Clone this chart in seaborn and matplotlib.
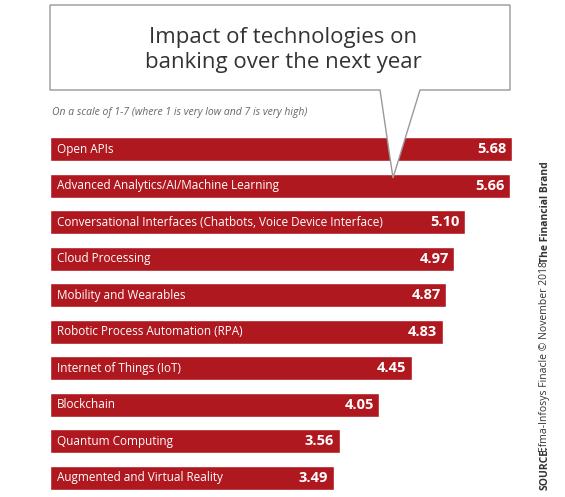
import matplotlib
matplotlib.use("Agg")
import matplotlib.pyplot as plt
import seaborn as sns
import pandas as pd
from matplotlib.patches import Polygon

categories = ["Open APIs", "Advanced Analytics/AI/Machine Learning",
              "Conversational Interfaces (Chatbots, Voice Device Interface)",
              "Cloud Processing", "Mobility and Wearables",
              "Robotic Process Automation (RPA)", "Internet of Things (IoT)",
              "Blockchain", "Quantum Computing", "Augmented and Virtual Reality"]
values = [5.68, 5.66, 5.10, 4.97, 4.87, 4.83, 4.45, 4.05, 3.56, 3.49]
title = "Impact of technologies on\nbanking over the next year"
subtitle = "On a scale of 1-7 (where 1 is very low and 7 is very high)"

sns.set_theme(style="white")
plt.rcParams['font.family'] = ['Open Sans', 'DejaVu Sans']
W, H = 565, 497
fig = plt.figure(figsize=(5.65, 4.97), dpi=100)
red = "#b01820"

def fx(px): return px / W
def fy(py): return 1 - py / H

ax = fig.add_axes([fx(50), fy(496), fx(480), (496 - 131) / H])
df = pd.DataFrame({"cat": categories, "val": values})
sns.barplot(data=df, x="val", y="cat", color=red, saturation=1, width=0.66, ax=ax, orient="h")
ax.set_xlim(0, 5.9)
ax.set_ylim(9.5, -0.5)
ax.axis("off")
for i, (c, v) in enumerate(zip(categories, values)):
    ax.text(0.08, i, c, color="white", va="center", ha="left", fontsize=8.5)
    ax.text(v - 0.07, i, f"{v:.2f}", color="white", va="center", ha="right",
            fontsize=10.5, fontweight="bold")

pts = [(50, 5), (510, 5), (510, 90), (420, 90), (393, 178), (380, 90), (50, 90)]
bubble = Polygon([(fx(x), fy(y)) for x, y in pts], closed=True,
                 transform=fig.transFigure, facecolor="white",
                 edgecolor="#999999", lw=1.0, zorder=10)
fig.add_artist(bubble)
fig.text(fx(283), fy(50), title, ha="center", va="center", fontsize=16,
         color="#333333", linespacing=1.25, zorder=11)
fig.text(fx(52), fy(113), subtitle, ha="left", va="center", fontsize=7.5,
         style="italic", color="#666666")
kw = dict(rotation=90, ha="center", va="bottom", fontsize=7.5, color="#333333")
fig.text(fx(545), fy(490), "SOURCE:", fontweight="bold", **kw)
fig.text(fx(545), fy(452), "Efma-Infosys Finacle © November 2018", **kw)
fig.text(fx(545), fy(263), "The Financial Brand", fontweight="bold", **kw)
fig.savefig("out.png", dpi=100)
